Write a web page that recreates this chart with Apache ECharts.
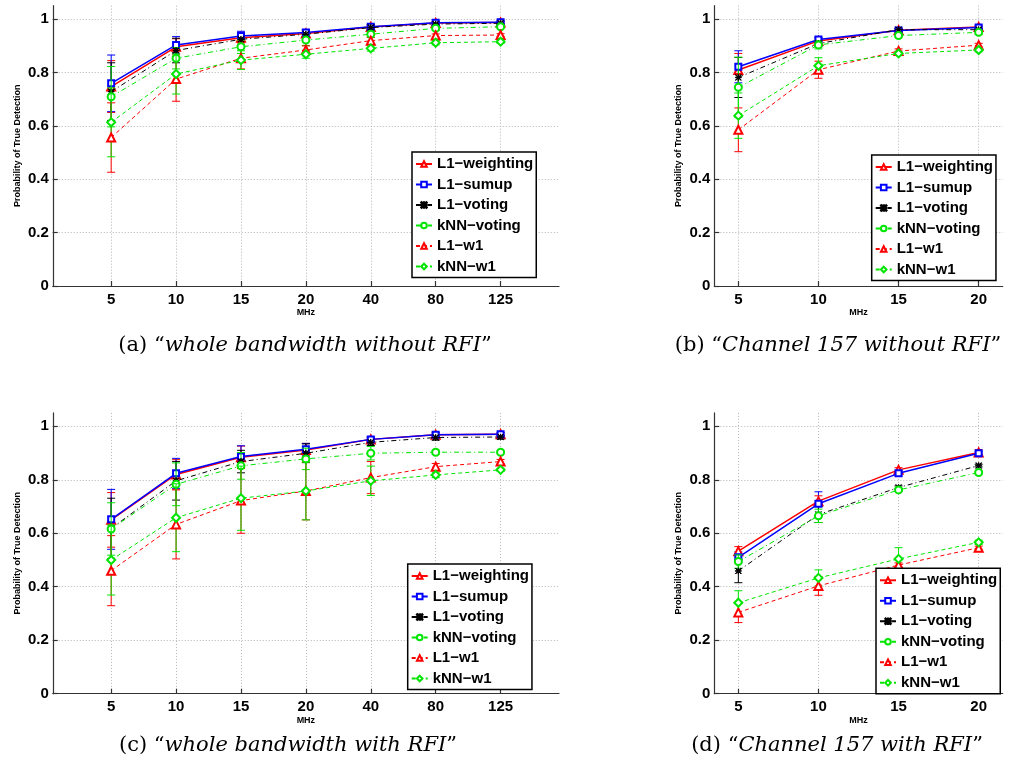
<!DOCTYPE html>
<html><head><meta charset="utf-8">
<script src="https://cdn.jsdelivr.net/npm/echarts@6/dist/echarts.min.js"></script>
<style>html,body{margin:0;padding:0;background:#fff}#c{width:1022px;height:768px}</style>
</head><body><div id="c"></div>
<script>
// ---- categories / ticks ----
const wideCats = ['5', '10', '15', '20', '40', '80', '125'];
const chanCats = [5, 10, 15, 20];
const yTicks = [0, 0.2, 0.4, 0.6, 0.8, 1];
const seriesNames = ['L1−weighting', 'L1−sumup', 'L1−voting', 'kNN−voting', 'L1−w1', 'kNN−w1'];
const captions = ['whole bandwidth without RFI', 'Channel 157 without RFI', 'whole bandwidth with RFI', 'Channel 157 with RFI'];

// ---- (a) whole bandwidth without RFI ----
const aWeighting = [0.747, 0.896, 0.930, 0.946, 0.970, 0.985, 0.987];
const aWeightingErr = [0.097, 0.030, 0.020, 0.012, 0.008, 0.006, 0.005];
const aSumup = [0.759, 0.903, 0.936, 0.949, 0.971, 0.986, 0.988];
const aSumupErr = [0.106, 0.031, 0.018, 0.012, 0.008, 0.006, 0.005];
const aVoting = [0.728, 0.882, 0.924, 0.943, 0.968, 0.981, 0.984];
const aVotingErr = [0.108, 0.046, 0.022, 0.014, 0.009, 0.006, 0.005];
const aKnnVoting = [0.709, 0.853, 0.896, 0.921, 0.943, 0.965, 0.971];
const aKnnVotingErr = [0.113, 0.040, 0.025, 0.020, 0.012, 0.008, 0.006];
const aW1 = [0.556, 0.775, 0.853, 0.884, 0.919, 0.938, 0.940];
const aW1Err = [0.130, 0.083, 0.040, 0.015, 0.012, 0.006, 0.005];
const aKnnW1 = [0.613, 0.794, 0.846, 0.868, 0.890, 0.911, 0.915];
const aKnnW1Err = [0.129, 0.075, 0.035, 0.015, 0.010, 0.008, 0.006];

// ---- (b) Channel 157 without RFI ----
const bWeighting = [0.809, 0.918, 0.958, 0.970];
const bWeightingErr = [0.062, 0.010, 0.006, 0.006];
const bSumup = [0.821, 0.923, 0.957, 0.968];
const bSumupErr = [0.060, 0.008, 0.005, 0.005];
const bVoting = [0.781, 0.908, 0.960, 0.960];
const bVotingErr = [0.075, 0.012, 0.005, 0.005];
const bKnnVoting = [0.744, 0.903, 0.938, 0.950];
const bKnnVotingErr = [0.113, 0.015, 0.008, 0.008];
const bW1 = [0.585, 0.810, 0.880, 0.902];
const bW1Err = [0.082, 0.032, 0.008, 0.007];
const bKnnW1 = [0.638, 0.825, 0.871, 0.884];
const bKnnW1Err = [0.085, 0.030, 0.008, 0.007];

// ---- (c) whole bandwidth with RFI ----
const cWeighting = [0.650, 0.820, 0.884, 0.911, 0.951, 0.968, 0.970];
const cWeightingErr = [0.102, 0.055, 0.042, 0.025, 0.008, 0.008, 0.006];
const cSumup = [0.652, 0.824, 0.887, 0.914, 0.951, 0.968, 0.970];
const cSumupErr = [0.112, 0.056, 0.040, 0.022, 0.008, 0.007, 0.006];
const cVoting = [0.618, 0.796, 0.868, 0.899, 0.940, 0.958, 0.960];
const cVotingErr = [0.113, 0.072, 0.042, 0.035, 0.012, 0.010, 0.008];
const cKnnVoting = [0.616, 0.783, 0.852, 0.878, 0.899, 0.903, 0.903];
const cKnnVotingErr = [0.098, 0.080, 0.050, 0.040, 0.025, 0.008, 0.006];
const cW1 = [0.460, 0.633, 0.722, 0.758, 0.808, 0.849, 0.868];
const cW1Err = [0.131, 0.129, 0.122, 0.108, 0.060, 0.012, 0.008];
const cKnnW1 = [0.500, 0.658, 0.731, 0.758, 0.796, 0.818, 0.837];
const cKnnW1Err = [0.131, 0.127, 0.120, 0.108, 0.055, 0.010, 0.006];

// ---- (d) Channel 157 with RFI ----
const dWeighting = [0.533, 0.720, 0.837, 0.902];
const dWeightingErr = [0.017, 0.020, 0.008, 0.010];
const dSumup = [0.510, 0.710, 0.824, 0.899];
const dSumupErr = [0.020, 0.045, 0.010, 0.006];
const dVoting = [0.459, 0.670, 0.771, 0.853];
const dVotingErr = [0.044, 0.030, 0.006, 0.005];
const dKnnVoting = [0.494, 0.665, 0.762, 0.827];
const dKnnVotingErr = [0.025, 0.025, 0.006, 0.005];
const dW1 = [0.304, 0.403, 0.481, 0.546];
const dW1Err = [0.038, 0.035, 0.008, 0.006];
const dKnnW1 = [0.340, 0.433, 0.504, 0.566];
const dKnnW1Err = [0.045, 0.030, 0.042, 0.008];

// ---- build ----
const wideX = wideCats.map((c, i) => i + 1);
const panels = [
  {xs: wideX, means: [aWeighting, aSumup, aVoting, aKnnVoting, aW1, aKnnW1], errs: [aWeightingErr, aSumupErr, aVotingErr, aKnnVotingErr, aW1Err, aKnnW1Err]},
  {xs: chanCats, means: [bWeighting, bSumup, bVoting, bKnnVoting, bW1, bKnnW1], errs: [bWeightingErr, bSumupErr, bVotingErr, bKnnVotingErr, bW1Err, bKnnW1Err]},
  {xs: wideX, means: [cWeighting, cSumup, cVoting, cKnnVoting, cW1, cKnnW1], errs: [cWeightingErr, cSumupErr, cVotingErr, cKnnVotingErr, cW1Err, cKnnW1Err]},
  {xs: chanCats, means: [dWeighting, dSumup, dVoting, dKnnVoting, dW1, dKnnW1], errs: [dWeightingErr, dSumupErr, dVotingErr, dKnnVotingErr, dW1Err, dKnnW1Err]}
];

const asterisk = 'path://M4.6 0L5.4 0L5.4 10L4.6 10Z M0 4.6L10 4.6L10 5.4L0 5.4Z M0 0.6L0.6 0L10 9.4L9.4 10Z M9.4 0L10 0.6L0.6 10L0 9.4Z';
const GREEN = '#00e600';
const styles = [
  {color: '#ff0000', symbol: 'emptyTriangle', size: 8, type: 'solid', width: 1.5},
  {color: '#0000ff', symbol: 'emptyRect', size: 6, type: 'solid', width: 1.5},
  {color: '#000000', symbol: asterisk, size: 6, type: [5, 3, 1, 3], width: 1},
  {color: GREEN, symbol: 'emptyCircle', size: 7, type: [5, 3, 1, 3], width: 1},
  {color: '#ff0000', symbol: 'emptyTriangle', size: 8, type: [4, 3], width: 1},
  {color: GREEN, symbol: 'emptyDiamond', size: 8, type: [4, 3], width: 1}
];

const grids = [
  {left: 47, top: 5.65, width: 512, height: 280.35},
  {left: 714.3, top: 5.65, width: 288.4, height: 280.35},
  {left: 47, top: 412.9, width: 512, height: 280.8},
  {left: 714.3, top: 412.9, width: 288.4, height: 280.8}
];
const legendPos = [[412, 152], [871.7, 155], [407.7, 564], [876, 568.3]];

const FONT = 'Liberation Sans';
const axisLineStyle = {color: '#333', width: 1.2};
const splitStyle = {show: true, lineStyle: {color: '#b5b5b5', type: [1, 2], width: 1}};

const xAxes = [], yAxes = [], series = [], legends = [];
panels.forEach((p, pi) => {
  const wide = pi % 2 === 0;
  xAxes.push({
    type: 'value', gridIndex: pi,
    min: wide ? 0.1 : 3.5, max: wide ? 7.9 : 21.5,
    name: 'MHz', nameLocation: 'middle', nameGap: 19,
    nameTextStyle: {fontFamily: FONT, fontWeight: 'bold', fontSize: 9, color: '#000'},
    axisLine: {show: true, lineStyle: axisLineStyle},
    axisTick: {show: true, inside: true, length: 5, customValues: p.xs, lineStyle: axisLineStyle},
    axisLabel: {customValues: p.xs, margin: 6, fontFamily: FONT, fontWeight: 'bold', fontSize: 15, color: '#000',
      formatter: v => wide ? wideCats[Math.round(v) - 1] : String(v)},
    splitLine: splitStyle
  });
  yAxes.push({
    type: 'value', gridIndex: pi, min: 0, max: 1.05,
    name: 'Probability of True Detection', nameLocation: 'middle', nameGap: 31, nameRotate: 90,
    nameTextStyle: {fontFamily: FONT, fontWeight: 'bold', fontSize: 9, color: '#000'},
    axisLine: {show: true, lineStyle: axisLineStyle},
    axisTick: {show: true, inside: true, length: 5, customValues: yTicks, lineStyle: axisLineStyle},
    axisLabel: {customValues: yTicks, margin: 4, fontFamily: FONT, fontWeight: 'bold', fontSize: 15, color: '#000'},
    splitLine: splitStyle
  });
  p.means.forEach((m, si) => {
    const st = styles[si];
    const err = p.errs[si];
    series.push({
      type: 'custom', name: 'err-' + pi + '-' + si, xAxisIndex: pi, yAxisIndex: pi,
      silent: true, z: 2 + si, animation: false,
      encode: {x: 0, y: [1, 3, 4]},
      data: p.xs.map((x, i) => [x, m[i], err[i], m[i] - err[i], m[i] + err[i]]),
      renderItem: (params, api) => {
        const x = api.value(0);
        const top = api.coord([x, api.value(4)]);
        const bot = api.coord([x, api.value(3)]);
        const hw = 4;
        const style = {stroke: st.color, lineWidth: 1, fill: null};
        return {type: 'group', children: [
          {type: 'line', shape: {x1: top[0], y1: top[1], x2: bot[0], y2: bot[1]}, style},
          {type: 'line', shape: {x1: top[0] - hw, y1: top[1], x2: top[0] + hw, y2: top[1]}, style},
          {type: 'line', shape: {x1: bot[0] - hw, y1: bot[1], x2: bot[0] + hw, y2: bot[1]}, style}
        ]};
      }
    });
    series.push({
      type: 'line', name: seriesNames[si], xAxisIndex: pi, yAxisIndex: pi,
      z: 3 + si, animation: false,
      data: p.xs.map((x, i) => [x, m[i]]),
      symbol: st.symbol, symbolSize: st.size, showSymbol: true,
      lineStyle: {color: st.color, type: st.type, width: st.width},
      itemStyle: {color: st.color, borderColor: st.color, borderWidth: 1}
    });
  });
  legends.push({
    show: true, orient: 'vertical', left: legendPos[pi][0], top: legendPos[pi][1],
    data: seriesNames, selectedMode: false,
    padding: [4, 3, 3, 3], itemWidth: 16, itemHeight: 7, itemGap: 4.5,
    backgroundColor: '#fff', borderColor: '#000', borderWidth: 1.5, borderRadius: 0,
    textStyle: {fontFamily: FONT, fontWeight: 'bold', fontSize: 15, lineHeight: 16, color: '#000'},
    z: 20
  });
});

const capPos = [[305, 346], [838, 346], [288, 746], [837, 746]];
const letters = ['a', 'b', 'c', 'd'];
const graphics = captions.map((t, i) => ({
  type: 'text', x: capPos[i][0], y: capPos[i][1], z: 100,
  style: {
    text: '{n|(' + letters[i] + ') “}{it|' + t + '}{n|”}',
    align: 'center', verticalAlign: 'middle',
    rich: {
      n: {fontFamily: 'DejaVu Serif', fontSize: 21, fill: '#000'},
      it: {fontFamily: 'DejaVu Serif', fontStyle: 'italic', fontSize: 21, fill: '#000'}
    }
  }
}));

const chart = echarts.init(document.getElementById('c'), null, {renderer: 'canvas'});
chart.setOption({
  animation: false,
  backgroundColor: '#fff',
  grid: grids,
  xAxis: xAxes,
  yAxis: yAxes,
  legend: legends,
  series: series,
  graphic: graphics
});
</script>
</body></html>
